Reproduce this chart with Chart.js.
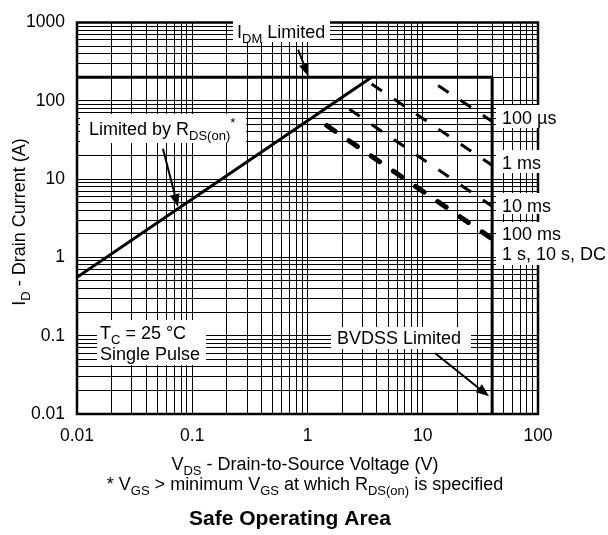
<!DOCTYPE html>
<html>
<head>
<meta charset="utf-8">
<script src="https://cdn.jsdelivr.net/npm/chart.js@4.4.1/dist/chart.umd.min.js"></script>
<style>
  html, body { margin: 0; padding: 0; background: #fff; }
  #wrap { width: 608px; height: 535px; }
</style>
</head>
<body>
<div id="wrap"><canvas id="soa-chart" width="608" height="535"></canvas></div>
<script>
"use strict";

// decade ticks (the labelled ones) and the minor steps between them
const xDecades = [0.01, 0.1, 1, 10, 100];
const yDecades = [0.01, 0.1, 1, 10, 100, 1000];
const minorSteps = [2, 3, 4, 5, 6, 7, 8, 9];

// limit lines, voltage (V) / current (A)
const rdsVoltage = [0.01, 3.6];
const rdsCurrent = [0.556, 200];
const idmVoltage = [0.01, 40];
const idmCurrent = [200, 200];
const bvdssVoltage = [40, 40];
const bvdssCurrent = [200, 0.01];

// pulse lines, start and end point of each
const pulseLabels = ['100 µs', '1 ms', '10 ms', '100 ms', '1 s, 10 s, DC'];
const pulseStartV = [13.6, 3.6, 2.31, 1.47, 1.47];
const pulseStartI = [157, 164, 77.8, 48.3, 48.3];
const pulseEndV = [40, 40, 40, 40, 40];
const pulseEndI = [54.6, 15.0, 4.5, 1.73, 1.73];

const FONT = '"Liberation Sans", Arial, Helvetica, sans-serif';

const buildTicks = (decades) => {
  const out = [];
  decades.forEach((d, i) => {
    out.push(d);
    if (i < decades.length - 1) {
      minorSteps.forEach((m) => out.push(Number((d * m).toPrecision(3))));
    }
  });
  return out;
};

const xTicks = buildTicks(xDecades);
const yTicks = buildTicks(yDecades);

const toPoints = (xs, ys) => xs.map((x, i) => ({ x, y: ys[i] }));

const solidLine = (label, xs, ys) => ({
  label,
  data: toPoints(xs, ys),
  showLine: true,
  borderColor: '#000',
  borderWidth: 3,
  pointRadius: 0,
  fill: false,
});

const datasets = [
  solidLine('RDS(on)', rdsVoltage, rdsCurrent),
  solidLine('IDM', idmVoltage, idmCurrent),
  solidLine('BVDSS', bvdssVoltage, bvdssCurrent),
];

pulseLabels.forEach((label, i) => {
  const isDc = i === pulseLabels.length - 1;
  datasets.push({
    label,
    data: toPoints([pulseStartV[i], pulseEndV[i]], [pulseStartI[i], pulseEndI[i]]),
    showLine: true,
    borderColor: '#000',
    borderWidth: isDc ? 5 : 3,
    borderDash: isDc ? [10, 16.9] : [12.5, 14.4],
    borderCapStyle: isDc ? 'round' : 'butt',
    pointRadius: 0,
    fill: false,
  });
});

// text with sub/superscript parts: [text, '' | 'sub' | 'sup']
const drawRich = (ctx, parts, x, y, size, align, bold) => {
  const small = Math.round(size * 0.72);
  const fontFor = (mode) => `${bold ? 'bold ' : ''}${mode ? small : size}px ${FONT}`;
  let total = 0;
  parts.forEach(([t, mode]) => {
    ctx.font = fontFor(mode);
    total += ctx.measureText(t).width;
  });
  let cx = align === 'center' ? x - total / 2 : x;
  ctx.textAlign = 'left';
  ctx.textBaseline = 'alphabetic';
  parts.forEach(([t, mode]) => {
    ctx.font = fontFor(mode);
    let dy = 0;
    if (mode === 'sub') dy = size * 0.3;
    if (mode === 'sup') dy = -size * 0.42;
    ctx.fillText(t, cx, y + dy);
    cx += ctx.measureText(t).width;
  });
};

const drawArrow = (ctx, x1, y1, x2, y2) => {
  const ang = Math.atan2(y2 - y1, x2 - x1);
  const len = 13;
  const half = 5;
  const bx = x2 - len * Math.cos(ang);
  const by = y2 - len * Math.sin(ang);
  ctx.beginPath();
  ctx.moveTo(x1, y1);
  ctx.lineTo(bx, by);
  ctx.lineWidth = 2;
  ctx.stroke();
  ctx.beginPath();
  ctx.moveTo(x2, y2);
  ctx.lineTo(bx + half * Math.sin(ang), by - half * Math.cos(ang));
  ctx.lineTo(bx - half * Math.sin(ang), by + half * Math.cos(ang));
  ctx.closePath();
  ctx.fill();
};

// white boxes behind the labels (left, top, right, bottom)
const labelBoxes = [
  [233, 21, 330, 42],
  [80, 114, 246, 143],
  [97, 320, 206, 365],
  [331, 327, 471, 349],
  [496, 105, 608, 128],
  [496, 150, 608, 173],
  [496, 193, 608, 214],
  [496, 222, 608, 265],
];

const pulseLabelY = [117, 162, 205, 233, 253];

const soaAnnotations = {
  id: 'soaAnnotations',
  beforeDatasetsDraw(chart) {
    const { ctx, chartArea: area } = chart;
    ctx.save();
    // plot frame first, so the label boxes can hide it on the right
    ctx.strokeStyle = '#000';
    ctx.lineWidth = 2.5;
    ctx.strokeRect(area.left, area.top, area.right - area.left, area.bottom - area.top);
    ctx.fillStyle = '#fff';
    labelBoxes.forEach(([l, t, r, b]) => ctx.fillRect(l, t, r - l, b - t));
    ctx.restore();
  },
  afterDatasetsDraw(chart) {
    const { ctx } = chart;
    const px = (v) => chart.scales.x.getPixelForValue(v);
    const py = (v) => chart.scales.y.getPixelForValue(v);

    ctx.save();
    ctx.strokeStyle = '#000';
    ctx.fillStyle = '#000';

    // arrows pointing at the limit lines
    drawArrow(ctx, px(0.83), py(450), px(1.02), py(205));
    drawArrow(ctx, px(0.0557), py(24.4), px(0.0752), py(4.4));
    drawArrow(ctx, px(12.8), py(0.0596), px(37.6), py(0.0168));

    const size = 18;
    const base = 6.5;
    drawRich(ctx, [['I', ''], ['DM', 'sub'], [' Limited', '']], 237, 31.5 + base, size, 'left');
    drawRich(ctx, [['Limited by R', ''], ['DS(on)', 'sub'], ['*', 'sup']], 89, 128 + base, size, 'left');
    drawRich(ctx, [['T', ''], ['C', 'sub'], [' = 25 °C', '']], 100, 332 + base, size, 'left');
    drawRich(ctx, [['Single Pulse', '']], 100, 353 + base, size, 'left');
    drawRich(ctx, [['BVDSS Limited', '']], 337, 337 + base, size, 'left');
    pulseLabels.forEach((label, i) => {
      drawRich(ctx, [[label, '']], 502, pulseLabelY[i] + base, size, 'left');
    });

    // axis titles, footnote and caption
    drawRich(ctx, [['V', ''], ['DS', 'sub'], [' - Drain-to-Source Voltage (V)', '']], 305, 463 + base, size, 'center');
    drawRich(ctx, [['* V', ''], ['GS', 'sub'], [' > minimum V', ''], ['GS', 'sub'], [' at which R', ''], ['DS(on)', 'sub'], [' is specified', '']], 305, 483 + base, size, 'center');
    drawRich(ctx, [['Safe Operating Area', '']], 290, 517 + 7.5, 21, 'center', true);

    ctx.translate(18, 222);
    ctx.rotate(-Math.PI / 2);
    drawRich(ctx, [['I', ''], ['D', 'sub'], [' - Drain Current (A)', '']], 0, base, size, 'center');
    ctx.restore();
  },
};

const axisOptions = (ticks, decades, fit) => ({
  type: 'logarithmic',
  min: decades[0],
  max: decades[decades.length - 1],
  afterBuildTicks: (scale) => {
    scale.ticks = ticks.map((value) => ({ value }));
  },
  afterFit: fit,
  grid: { color: '#000', lineWidth: 1, drawTicks: false },
  border: { display: false },
  ticks: {
    autoSkip: false,
    maxRotation: 0,
    padding: 12,
    color: '#000',
    font: { family: FONT, size: 17.5 },
    callback: (value) => (decades.includes(value) ? String(value) : ''),
  },
});

new Chart(document.getElementById('soa-chart'), {
  type: 'scatter',
  data: { datasets },
  options: {
    responsive: false,
    animation: false,
    layout: { padding: { top: 14, right: 70, left: 0, bottom: 0 } },
    plugins: {
      legend: { display: false },
      tooltip: { enabled: false },
    },
    scales: {
      x: axisOptions(xTicks, xDecades, (scale) => { scale.height = 121; }),
      y: axisOptions(yTicks, yDecades, (scale) => { scale.width = 77; }),
    },
  },
  plugins: [soaAnnotations],
});
</script>
</body>
</html>
